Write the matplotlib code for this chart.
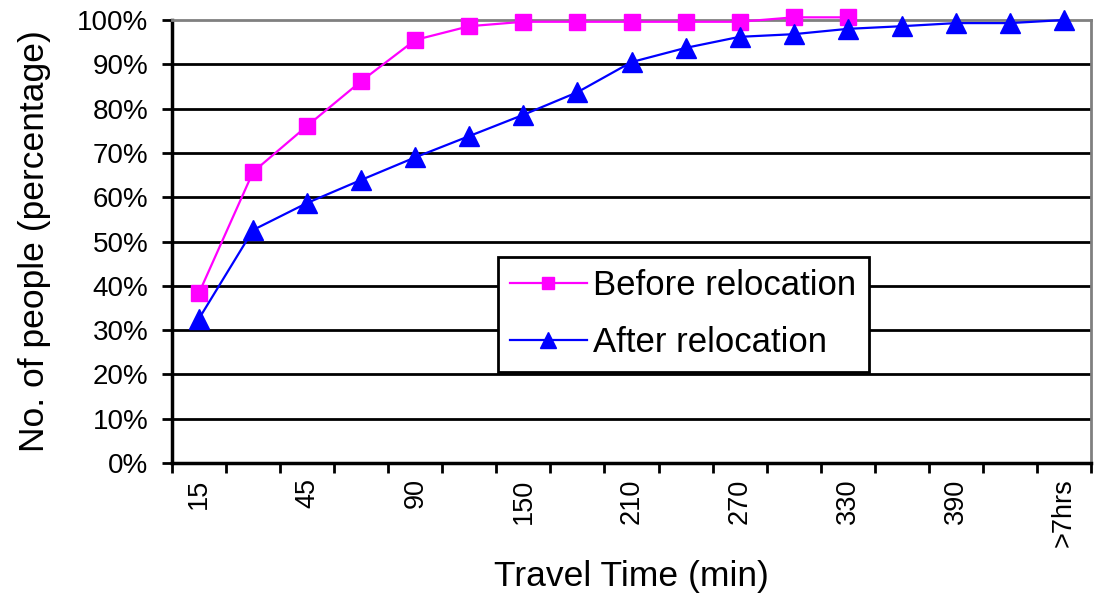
import numpy as np
import matplotlib.pyplot as plt

plt.rcParams['font.family'] = ['Liberation Sans', 'DejaVu Sans']

# categories (travel time, min)
categories = ["15", "30", "45", "60", "90", "120", "150", "180", "210", "240",
              "270", "300", "330", "360", "390", "420", ">7hrs"]
before = [38.4, 65.7, 76.1, 86.2, 95.5, 98.6, 99.6, 99.6, 99.6, 99.6, 99.6, 100.6, 100.6]
after = [32.6, 52.6, 58.7, 63.9, 69.0, 73.8, 78.6, 83.7, 90.5, 93.7, 96.2, 96.8,
         98.0, 98.6, 99.3, 99.3, 100.0]

fig = plt.figure(figsize=(11.05, 6.01), dpi=100)
ax = fig.add_axes([172 / 1105, 1 - 463 / 601, (1091 - 172) / 1105, (463 - 20) / 601])

x_b = np.arange(len(before))
x_a = np.arange(len(after))
ax.plot(x_b, before, color="#FF00FF", lw=1.6, marker="s", ms=11, mec="#FF00FF",
        label="Before relocation", clip_on=False, zorder=4)
ax.plot(x_a, after, color="#0000FF", lw=1.6, marker="^", ms=14, mec="#0000FF",
        label="After relocation", clip_on=False, zorder=4)

ax.set_xlim(-0.5, len(categories) - 0.5)
ax.set_ylim(0, 100)

# y axis
yt = np.arange(0, 101, 10)
ax.set_yticks(yt)
ax.set_yticklabels(["%d%%" % v for v in yt], fontsize=20)
ax.tick_params(axis="y", length=7, width=2, pad=10)
for v in yt[1:-1]:
    ax.axhline(v, color="black", lw=2, zorder=1)

# x axis: labels at every other category, ticks at boundaries
ax.set_xticks(np.arange(0, len(categories), 2))
ax.set_xticklabels(categories[::2], rotation=90, fontsize=19.5)
ax.set_xticks(np.arange(-0.5, len(categories), 1), minor=True)
ax.tick_params(axis="x", which="major", length=0, pad=11)
ax.tick_params(axis="x", which="minor", length=7, width=2)

for s in ["left", "bottom"]:
    ax.spines[s].set_color("black")
    ax.spines[s].set_linewidth(2.5)
for s in ["top", "right"]:
    ax.spines[s].set_color("#808080")
    ax.spines[s].set_linewidth(2)

ax.set_xlabel("Travel Time (min)", fontsize=25.5, labelpad=9)
ax.set_ylabel("No. of people (percentage)", fontsize=25.5, labelpad=19)

leg = ax.legend(loc="upper left", bbox_to_anchor=((498 - 172) / 919, (463 - 257) / 443),
                fontsize=25, frameon=True, fancybox=False, edgecolor="black", framealpha=1,
                borderpad=0.35, labelspacing=0.7, handlelength=2.2, handletextpad=0.2,
                borderaxespad=0, markerscale=0.85)
leg.get_frame().set_linewidth(2)
leg.set_zorder(3)

fig.savefig("out.png", dpi=100)
